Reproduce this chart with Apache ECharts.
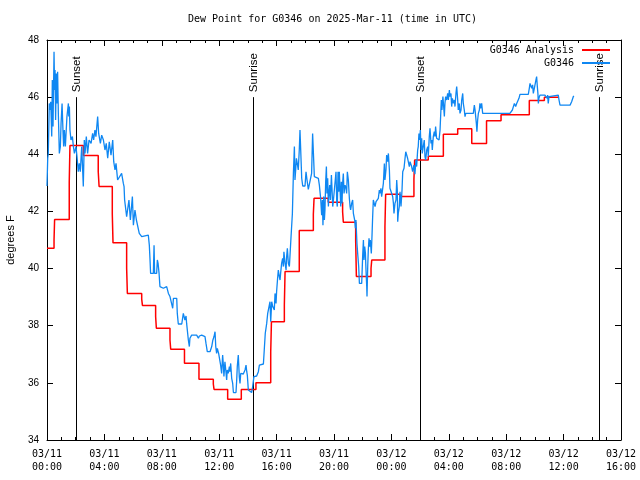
<!DOCTYPE html>
<html><head><meta charset="utf-8">
<script src="https://cdn.jsdelivr.net/npm/echarts/dist/echarts.min.js"></script>
<style>html,body{margin:0;padding:0;background:#fff}#c{width:640px;height:480px}</style>
</head><body><div id="c"></div>
<script>
const titleText = 'Dew Point for G0346 on 2025-Mar-11 (time in UTC)';
const yAxisName = 'degrees F';
const xTickLabels = ['03/11\n00:00','03/11\n04:00','03/11\n08:00','03/11\n12:00','03/11\n16:00','03/11\n20:00','03/12\n00:00','03/12\n04:00','03/12\n08:00','03/12\n12:00','03/12\n16:00'];
const seriesNames = ['G0346 Analysis', 'G0346'];

// hours since 2025-03-11 00:00 UTC
const redHours = [0,0.49,0.53,1.55,1.6,2.53,3.57,3.63,4.55,4.6,5.55,5.6,6.6,6.65,7.57,7.62,8.57,8.62,9.58,10.59,11.59,11.64,12.59,13.54,14.56,15.59,15.64,16.54,16.59,17.58,18.56,18.61,19.6,20.6,20.65,21.51,21.56,22.58,22.63,23.55,23.6,24.6,25.57,25.62,26.57,27.62,28.62,29.6,30.63,31.64,33.61,34.66,35.68];
const redValues = [40.71,41.0,41.72,43.02,44.31,43.96,43.4,42.87,41.91,40.9,40.01,39.13,38.93,38.71,38.32,37.91,37.5,37.18,36.69,36.13,35.96,35.77,35.43,35.77,36.0,37.09,38.14,38.73,39.9,41.33,41.9,42.46,42.32,41.99,41.62,40.97,39.72,40.01,40.3,41.47,42.6,42.52,43.13,43.8,43.93,44.7,44.89,44.38,45.17,45.38,45.88,46.0,46.0];

const blueHours = [0,0.03,0.05,0.09,0.16,0.21,0.26,0.33,0.37,0.42,0.49,0.53,0.56,0.6,0.65,0.7,0.74,0.79,0.86,0.93,0.98,1.05,1.12,1.16,1.21,1.28,1.39,1.49,1.52,1.56,1.6,1.67,1.77,1.84,1.91,2.02,2.09,2.18,2.25,2.32,2.42,2.53,2.6,2.65,2.74,2.83,2.93,3.07,3.18,3.25,3.34,3.41,3.53,3.6,3.72,3.81,3.93,4.04,4.13,4.23,4.34,4.46,4.58,4.65,4.74,4.81,4.92,5.2,5.32,5.37,5.41,5.55,5.71,5.81,5.95,6.02,6.13,6.23,6.32,6.43,6.6,7.06,7.13,7.18,7.22,7.41,7.46,7.5,7.64,7.69,7.74,7.81,7.87,8.11,8.34,8.46,8.57,8.69,8.76,8.81,8.92,9.04,9.08,9.15,9.39,9.5,9.61,9.69,9.73,9.85,9.92,9.96,10.08,10.43,10.55,10.62,10.78,10.9,11.01,11.08,11.17,11.36,11.48,11.55,11.64,11.71,11.76,11.82,11.87,11.96,12.06,12.1,12.17,12.24,12.29,12.33,12.4,12.47,12.52,12.56,12.63,12.71,12.75,12.8,12.87,12.94,12.99,13.17,13.22,13.26,13.33,13.4,13.45,13.5,13.68,13.8,13.87,13.92,13.96,14.03,14.26,14.33,14.42,14.61,14.73,14.8,14.89,15.08,15.14,15.21,15.31,15.38,15.45,15.49,15.54,15.59,15.66,15.73,15.77,15.84,15.89,15.96,16.0,16.07,16.12,16.19,16.24,16.28,16.35,16.42,16.47,16.51,16.59,16.66,16.7,16.75,16.82,16.89,16.93,17.0,17.1,17.17,17.24,17.28,17.33,17.38,17.44,17.51,17.58,17.63,17.68,17.75,17.82,17.98,18.05,18.12,18.21,18.33,18.44,18.51,18.58,18.63,18.68,18.91,18.98,19.07,19.14,19.19,19.23,19.28,19.33,19.37,19.42,19.47,19.51,19.56,19.61,19.65,19.7,19.75,19.82,19.86,19.91,19.95,20.07,20.14,20.19,20.23,20.28,20.33,20.37,20.42,20.47,20.51,20.56,20.6,20.65,20.7,20.77,20.84,20.88,20.93,21.0,21.07,21.12,21.16,21.23,21.3,21.35,21.44,21.49,21.53,21.6,21.65,21.72,21.77,21.93,22.0,22.05,22.09,22.14,22.19,22.23,22.28,22.3,22.35,22.39,22.44,22.49,22.53,22.6,22.65,22.69,22.74,22.79,22.86,22.93,22.97,23.09,23.16,23.2,23.27,23.32,23.44,23.51,23.55,23.62,23.67,23.74,23.79,23.86,23.9,24.02,24.09,24.14,24.18,24.25,24.32,24.37,24.41,24.44,24.48,24.55,24.6,24.67,24.74,24.79,24.88,24.95,25.0,25.06,25.13,25.18,25.25,25.3,25.37,25.41,25.48,25.57,25.64,25.71,25.76,25.83,25.87,25.92,25.97,26.02,26.06,26.11,26.15,26.22,26.29,26.34,26.39,26.46,26.53,26.57,26.64,26.69,26.76,26.81,26.85,26.92,26.99,27.04,27.08,27.15,27.22,27.27,27.32,27.39,27.43,27.48,27.52,27.59,27.64,27.69,27.73,27.78,27.85,27.92,27.97,28.04,28.08,28.15,28.2,28.25,28.32,28.39,28.43,28.5,28.55,28.62,28.66,28.73,28.78,28.85,28.9,28.97,29.01,29.08,29.13,29.18,29.71,29.78,29.83,29.87,29.92,29.96,30.01,30.06,30.13,30.17,30.22,30.29,30.36,31.45,31.52,31.57,32.26,32.3,32.33,32.43,32.5,32.57,32.66,32.73,32.8,32.89,32.96,33.54,33.61,33.66,33.73,33.78,33.84,33.89,33.96,34.0,34.05,34.12,34.17,34.21,34.24,34.28,34.35,34.7,34.77,34.82,34.86,34.89,34.93,34.98,35.05,35.63,35.68,35.75,36.45,36.56,36.68,36.72];
const blueValues = [42.89,42.89,43.86,44.03,45.78,45.55,45.84,44.62,46.6,44.97,47.59,46.25,46.95,45.2,46.83,45.78,46.89,45.43,44.03,44.27,45.08,45.78,44.73,44.27,44.85,44.27,45.32,45.78,45.32,45.67,44.85,44.5,44.62,44.27,44.03,44.27,43.92,43.39,43.68,43.39,44.27,42.87,44.5,44.03,44.62,44.03,44.5,44.38,44.73,44.5,44.85,44.62,45.32,44.73,44.38,44.67,44.5,44.15,44.38,43.86,44.44,43.97,44.5,43.74,43.45,43.68,43.1,43.33,42.98,42.87,42.4,41.82,42.4,41.7,42.52,41.52,42.05,41.7,41.64,41.23,41.12,41.17,40.82,40.3,39.83,39.83,40.82,39.83,39.83,40.3,40.18,39.83,39.37,39.31,39.37,39.13,39.02,38.96,38.61,38.96,38.99,38.96,38.43,38.06,38.06,38.43,38.2,38.34,38.08,37.5,37.27,37.56,37.67,37.67,37.56,37.64,37.67,37.62,37.62,37.38,37.09,37.09,37.27,37.48,37.62,37.79,37.27,37.03,37.21,37.03,36.97,36.62,36.33,36.97,36.62,36.22,36.74,36.39,36.1,36.45,36.33,36.57,36.39,36.68,36.16,35.98,35.66,35.66,36.1,36.57,36.97,36.22,35.98,36.33,36.31,36.45,36.62,36.39,36.27,35.75,35.66,35.87,36.22,36.24,36.39,36.62,36.66,36.66,37.15,37.73,38.08,38.43,38.37,38.49,38.84,38.14,38.84,38.67,38.72,38.55,39.13,38.78,39.19,39.66,39.95,39.72,39.6,39.83,40.18,40.36,40.07,40.59,40.18,39.95,40.42,40.71,40.18,40.07,40.42,41.06,41.93,43.33,44.27,43.1,43.45,43.86,43.68,43.45,44.15,44.85,44.15,43.16,42.89,42.89,43.39,43.1,42.77,42.77,43.33,44.73,43.86,43.22,43.16,43.16,42.92,42.46,41.87,42.4,41.52,42.52,41.7,42.05,43.04,43.57,42.63,43.16,42.17,42.63,42.92,42.4,43.27,42.81,42.17,42.34,42.34,43.39,42.34,42.17,43.39,42.69,43.39,43.33,42.17,43.04,42.28,42.98,43.33,42.63,42.92,42.81,42.63,43.39,43.1,42.46,42.17,42.05,42.28,42.4,41.93,41.7,41.41,41.7,40.88,40.53,40.07,39.48,39.48,40.47,41.0,40.3,40.77,40.53,39.95,39.37,39.02,40.07,40.65,41.06,40.77,41.0,40.53,41.17,41.76,42.4,42.42,42.17,42.34,42.4,42.46,42.75,42.63,42.81,42.52,42.98,43.68,43.1,43.45,43.97,43.74,44.03,43.45,42.81,42.77,42.52,42.28,41.93,42.28,42.4,43.1,42.77,41.64,41.93,42.17,42.69,42.17,42.75,43.39,43.51,43.86,44.09,44.09,43.86,43.8,43.57,43.74,43.68,43.57,43.39,43.62,43.3,43.8,43.57,44.15,44.27,44.73,44.5,44.85,44.15,44.56,44.03,44.27,44.5,43.92,43.8,44.15,44.27,43.92,44.62,44.91,44.38,44.5,44.15,44.62,44.79,44.62,44.97,44.56,44.5,44.56,44.5,44.85,45.32,45.9,45.55,46.02,45.67,45.32,45.78,46.02,45.9,46.13,45.9,46.25,46.02,46.13,45.67,45.96,45.78,45.9,45.67,46.13,46.37,45.9,45.55,45.78,45.43,45.55,45.9,46.13,45.78,45.55,45.32,45.43,45.43,45.72,45.55,45.49,45.08,44.79,45.2,45.43,45.55,45.78,45.61,45.78,45.43,45.43,45.37,45.43,45.43,45.37,45.43,45.55,45.61,45.78,45.67,45.78,45.84,45.96,46.1,46.1,46.31,46.48,46.43,46.31,46.43,46.13,46.31,46.37,46.54,46.72,46.37,46.13,45.78,45.96,46.07,46.07,46.02,46.07,45.96,46.07,45.78,46.02,46.07,46.07,45.9,45.72,45.72,45.84,46.02,46.04];

const eventHours = [2.0, 14.38, 26.02, 38.44];
const eventLabels = ['Sunset', 'Sunrise', 'Sunset', 'Sunrise'];
const eventBottom = 34, eventTop = 46;

const chart = echarts.init(document.getElementById('c'), null, {renderer: 'canvas'});
const mono = '"DejaVu Sans Mono", "Liberation Mono", monospace';
const sans = '"Liberation Sans", Arial, sans-serif';

function xAxisCfg(pos, showLabel) {
  return {
    type: 'value', position: pos, min: 0, max: 40, interval: 4,
    axisLine: {show: true, onZero: false, lineStyle: {color: '#000', width: 1}},
    axisTick: {show: true, inside: true, length: 6, lineStyle: {color: '#000', width: 1}},
    minorTick: {show: true, splitNumber: 4, length: 3, lineStyle: {color: '#000', width: 1}},
    splitLine: {show: false}, minorSplitLine: {show: false},
    axisLabel: {show: showLabel, formatter: v => xTickLabels[Math.round(v / 4)], fontFamily: mono, fontSize: 10, color: '#000', lineHeight: 13, margin: 8, hideOverlap: false}
  };
}
function yAxisCfg(pos, showLabel) {
  const c = {
    type: 'value', position: pos, min: 34, max: 48, interval: 2,
    axisLine: {show: true, onZero: false, lineStyle: {color: '#000', width: 1}},
    axisTick: {show: true, inside: true, length: 6, lineStyle: {color: '#000', width: 1}},
    splitLine: {show: false},
    axisLabel: {show: showLabel, fontFamily: sans, fontSize: 10, color: '#000', margin: 8}
  };
  if (showLabel) {
    c.name = yAxisName; c.nameLocation = 'middle'; c.nameGap = 31; c.nameRotate = 90;
    c.nameTextStyle = {fontFamily: sans, fontSize: 11, color: '#000'};
  }
  return c;
}

const option = {
  animation: false,
  backgroundColor: '#fff',
  title: {text: titleText, left: 188, top: 14, padding: 0,
    textStyle: {fontFamily: mono, fontSize: 10, fontWeight: 'normal', color: '#000'}},
  legend: {
    data: seriesNames, orient: 'vertical', right: 30, top: 45, align: 'right',
    icon: 'rect', itemWidth: 28, itemHeight: 2, itemGap: 3, padding: 0,
    textStyle: {fontFamily: mono, fontSize: 10, color: '#000', padding: [0, 3, 0, 0]}
  },
  grid: {left: 47, right: 19, top: 40, bottom: 40, containLabel: false, outerBoundsMode: 'none'},
  xAxis: [xAxisCfg('bottom', true), xAxisCfg('top', false)],
  yAxis: [yAxisCfg('left', true), yAxisCfg('right', false)],
  series: [
    {
      type: 'custom', name: 'events', silent: true, z: 1, clip: false,
      xAxisIndex: 0, yAxisIndex: 0,
      data: eventHours.map((h, i) => [h, eventBottom, i]),
      renderItem: function (params, api) {
        const h = api.value(0);
        const i = api.value(2);
        const p0 = api.coord([h, eventBottom]);
        const p1 = api.coord([h, eventTop]);
        const x = Math.round(p0[0]) + 0.5;
        return {
          type: 'group',
          children: [
            {type: 'line', shape: {x1: x, y1: p0[1], x2: x, y2: p1[1]}, style: {stroke: '#000', lineWidth: 1}},
            {type: 'text', x: x + 0.5, y: p1[1] - 5, rotation: Math.PI / 2,
              style: {text: eventLabels[i], fill: '#000', font: '11.5px ' + sans,
                align: 'left', verticalAlign: 'middle', textAlign: 'left', textVerticalAlign: 'middle'}}
          ]
        };
      }
    },
    {
      type: 'line', name: seriesNames[0], step: 'end', showSymbol: false, z: 2,
      data: redHours.map((h, i) => [h, redValues[i]]),
      lineStyle: {color: '#ff0000', width: 1.5}, itemStyle: {color: '#ff0000'}
    },
    {
      type: 'line', name: seriesNames[1], showSymbol: false, z: 3,
      data: blueHours.map((h, i) => [h, blueValues[i]]),
      lineStyle: {color: '#0f87f2', width: 1.3}, itemStyle: {color: '#0f87f2'}
    }
  ]
};
chart.setOption(option);
</script>
</body></html>
